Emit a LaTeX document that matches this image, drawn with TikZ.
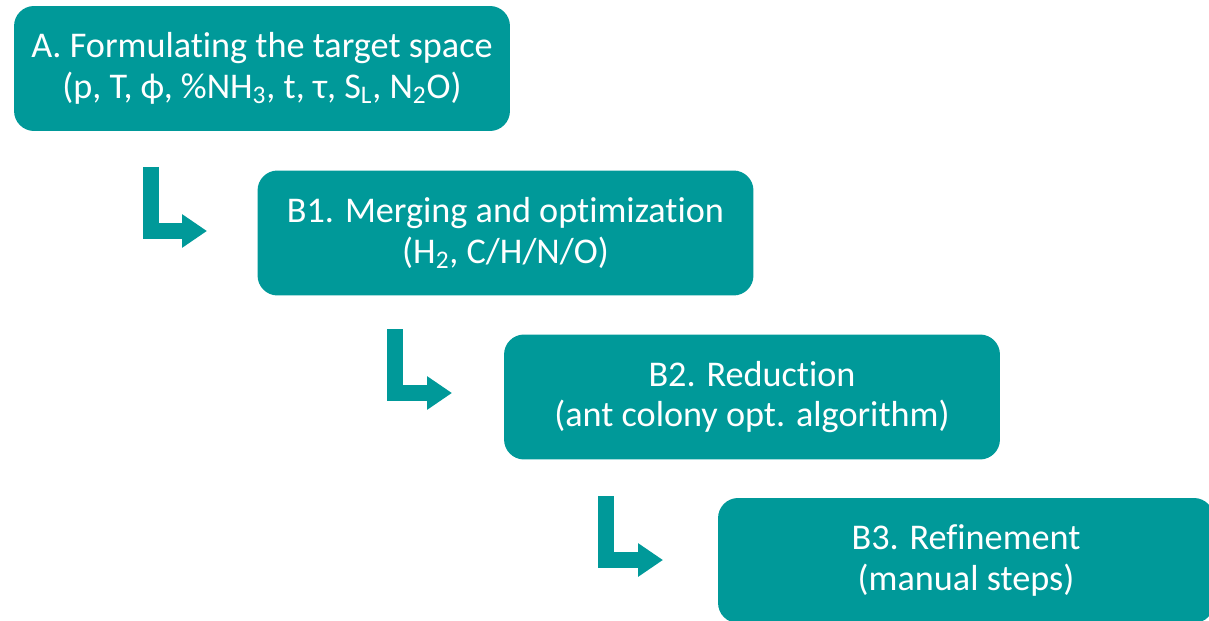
\documentclass[tikz,border=0pt]{standalone}
\usepackage{fontspec}
\setmainfont{Carlito}[Ligatures={NoCommon}]
\usepackage{tikz}
\usetikzlibrary{arrows.meta,positioning}
\definecolor{stepteal}{RGB}{0,153,153}

\begin{document}
\begin{tikzpicture}[
			x=0.02cm, y=-0.02cm,
			every node/.style={font=\fontsize{20.6}{23}\selectfont},
			stepbox/.style={fill=stepteal,text=white,rounded corners=0.4cm,minimum width=9.92cm,minimum height=2.5cm,align=center,inner sep=0pt},
			flow/.style={stepteal,line width=0.32cm,-{Triangle[width=0.64cm,length=0.5cm]}}
			]

			\useasboundingbox (0,0) rectangle (1209,621);

			\node[stepbox] (A) at (262,68.5) {A. Formulating the target space\\(p, T, ϕ, \%NH\textsubscript{3}, t, τ, S\textsubscript{L}, N\textsubscript{2}O)};
			\node[stepbox] (B1) at (505.5,233) {B1. Merging and optimization\\(H\textsubscript{2}, C/H/N/O)};
			\node[stepbox] (B2) at (752,397) {B2. Reduction\\(ant colony opt. algorithm)};
			\node[stepbox] (B3) at (966,560.5) {B3. Refinement\\(manual steps)};

			\coordinate (s1) at (151,167); \coordinate (t1) at (207,231);
			\coordinate (s2) at (395,329); \coordinate (t2) at (452,393);
			\coordinate (s3) at (606,496); \coordinate (t3) at (663,560);

			\foreach \i in {1,2,3}
				{
				\draw[flow] (s\i) |- (t\i);
				}

		\end{tikzpicture}
\end{document}
